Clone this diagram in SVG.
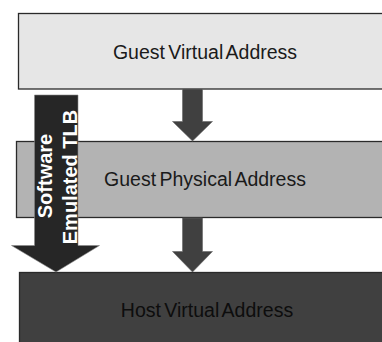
<svg xmlns="http://www.w3.org/2000/svg" width="382" height="342" viewBox="0 0 382 342">
<style>
.box{stroke:#2a2a2a;stroke-width:1.3}
.lbl{font-family:"Liberation Sans",Arial,sans-serif;font-size:19.5px;text-anchor:middle;word-spacing:-2px}
.flow{fill:#404040;stroke:#666;stroke-width:0.6}
.tlb{font-family:"Liberation Sans",Arial,sans-serif;font-size:20px;font-weight:bold;fill:#fff;text-anchor:middle}
</style>
<rect width="382" height="342" fill="#fff"/>
<g id="guest-virtual">
<rect class="box" x="18.5" y="13.5" width="370" height="75.5" fill="#e6e6e6"/>
<text class="lbl" x="205" y="59" fill="#1a1a1a">Guest Virtual Address</text>
</g>
<g id="guest-physical">
<rect class="box" x="16.5" y="141.5" width="372" height="76" fill="#b3b3b3"/>
<text class="lbl" x="205" y="186" fill="#1a1a1a">Guest Physical Address</text>
</g>
<g id="host-virtual">
<rect class="box" x="19.5" y="272.5" width="370" height="80" fill="#404040"/>
<text class="lbl" x="207" y="317" fill="#0d0d0d">Host Virtual Address</text>
</g>
<g id="connectors">
<polygon class="flow" points="182.5,89 202.5,89 202.5,121.5 212.5,121.5 192.5,141 172.5,121.5 182.5,121.5"/>
<polygon class="flow" points="182.5,218 202.5,218 202.5,251.5 212.5,251.5 192.5,272 172.5,251.5 182.5,251.5"/>
</g>
<g id="software-tlb">
<polygon points="34.5,95 78,95 78,245.5 99.5,245.5 56,272 11.5,245.5 34.5,245.5" fill="#262626" stroke="#888" stroke-width="0.6"/>
<text class="tlb" transform="translate(52,176) rotate(-90)" x="0" y="0">Software</text>
<text class="tlb" transform="translate(77,177) rotate(-90)" x="0" y="0">Emulated TLB</text>
</g>
</svg>
